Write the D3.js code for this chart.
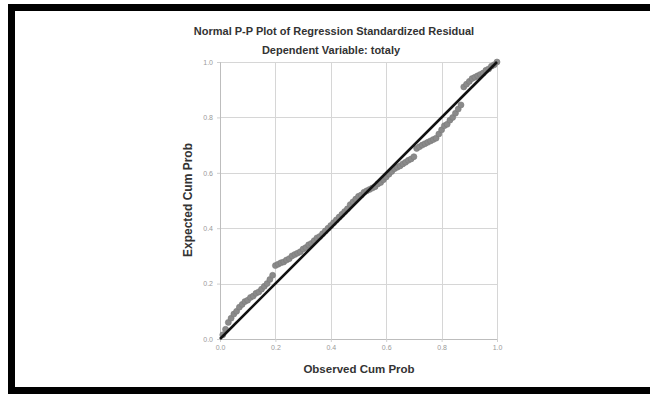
<!DOCTYPE html>
<html>
<head>
<meta charset="utf-8">
<script src="https://cdn.jsdelivr.net/npm/d3@7"></script>
<style>
  body { margin: 0; background: #fff; }
  svg { display: block; font-family: Arial, "Liberation Sans", sans-serif; }
</style>
</head>
<body>
<svg id="chart"></svg>
<script>
const title = 'Normal P-P Plot of Regression Standardized Residual';
const subtitle = 'Dependent Variable: totaly';
const xLabel = 'Observed Cum Prob';
const yLabel = 'Expected Cum Prob';
const ticks = [0, 0.2, 0.4, 0.6, 0.8, 1.0];

// observed vs expected cumulative probability
const observed = [
  0.01, 0.02, 0.03, 0.04, 0.05, 0.06, 0.07, 0.08, 0.09, 0.10,
  0.11, 0.12, 0.13, 0.14, 0.15, 0.16, 0.17, 0.18, 0.19, 0.20,
  0.21, 0.22, 0.23, 0.24, 0.25, 0.26, 0.27, 0.28, 0.29, 0.30,
  0.31, 0.32, 0.33, 0.34, 0.35, 0.36, 0.37, 0.38, 0.39, 0.40,
  0.41, 0.42, 0.43, 0.44, 0.45, 0.46, 0.47, 0.48, 0.49, 0.50,
  0.51, 0.52, 0.53, 0.54, 0.55, 0.56, 0.57, 0.58, 0.59, 0.60,
  0.61, 0.62, 0.63, 0.64, 0.65, 0.66, 0.67, 0.68, 0.69, 0.70,
  0.71, 0.72, 0.73, 0.74, 0.75, 0.76, 0.77, 0.78, 0.79, 0.80,
  0.81, 0.82, 0.83, 0.84, 0.85, 0.86, 0.87, 0.88, 0.89, 0.90,
  0.91, 0.92, 0.93, 0.94, 0.95, 0.96, 0.97, 0.98, 0.99, 1.00
];
const expected = [
  0.015, 0.035, 0.06, 0.075, 0.09, 0.10, 0.115, 0.125, 0.135, 0.14,
  0.15, 0.155, 0.165, 0.17, 0.18, 0.19, 0.20, 0.215, 0.23, 0.265,
  0.27, 0.275, 0.278, 0.285, 0.29, 0.30, 0.305, 0.31, 0.315, 0.325,
  0.33, 0.34, 0.345, 0.355, 0.365, 0.37, 0.38, 0.39, 0.40, 0.41,
  0.42, 0.43, 0.44, 0.45, 0.46, 0.47, 0.485, 0.495, 0.505, 0.515,
  0.52, 0.53, 0.535, 0.54, 0.545, 0.55, 0.56, 0.565, 0.575, 0.585,
  0.595, 0.605, 0.615, 0.62, 0.625, 0.632, 0.638, 0.645, 0.65, 0.658,
  0.688, 0.694, 0.70, 0.705, 0.71, 0.715, 0.72, 0.725, 0.74, 0.755,
  0.77, 0.775, 0.79, 0.80, 0.815, 0.83, 0.845, 0.91, 0.92, 0.93,
  0.94, 0.945, 0.95, 0.955, 0.96, 0.97, 0.975, 0.985, 0.99, 1.00
];

const width = 650;
const height = 394;
const plot = { left: 220, top: 62, size: 277 };

const svg = d3.select('#chart').attr('width', width).attr('height', height);

// black frame round the whole picture
svg.append('rect')
  .attr('x', 11.5).attr('y', 7.5)
  .attr('width', 720).attr('height', 383)
  .attr('fill', '#fff')
  .attr('stroke', '#000')
  .attr('stroke-width', 7);

const scaleX = d3.scaleLinear().domain([0, 1]).range([plot.left, plot.left + plot.size]);
const scaleY = d3.scaleLinear().domain([0, 1]).range([plot.top + plot.size, plot.top]);

// grid
const grid = svg.append('g').attr('stroke', '#d6d6d6').attr('stroke-width', 1);
grid.selectAll('.gx').data(ticks).enter().append('line')
  .attr('x1', d => Math.round(scaleX(d)) + 0.5).attr('x2', d => Math.round(scaleX(d)) + 0.5)
  .attr('y1', scaleY(0)).attr('y2', scaleY(1));
grid.selectAll('.gy').data(ticks).enter().append('line')
  .attr('y1', d => Math.round(scaleY(d)) + 0.5).attr('y2', d => Math.round(scaleY(d)) + 0.5)
  .attr('x1', scaleX(0)).attr('x2', scaleX(1));

const xAxis = d3.axisBottom(scaleX).tickValues(ticks).tickFormat(d3.format('.1f')).tickSize(3).tickPadding(3);
const yAxis = d3.axisLeft(scaleY).tickValues(ticks).tickFormat(d3.format('.1f')).tickSize(3).tickPadding(4);

const xAxisWrapper = svg.append('g')
  .attr('transform', `translate(0, ${scaleY(0)})`)
  .call(xAxis);
const yAxisWrapper = svg.append('g')
  .attr('transform', `translate(${scaleX(0)}, 0)`)
  .call(yAxis);

[xAxisWrapper, yAxisWrapper].forEach(ax => {
  ax.select('.domain').attr('stroke', '#bdbdbd');
  ax.selectAll('.tick line').attr('stroke', '#cfcfcf');
  ax.selectAll('.tick text')
    .attr('fill', '#9a9a9a')
    .style('font-size', '7px')
    .style('font-family', 'Arial, "Liberation Sans", sans-serif');
});

// points
svg.append('g')
  .selectAll('circle')
  .data(observed.map((o, i) => [o, expected[i]]))
  .enter()
  .append('circle')
  .attr('cx', d => scaleX(d[0]))
  .attr('cy', d => scaleY(d[1]))
  .attr('r', 3)
  .attr('fill', '#8a8a8a')
  .attr('stroke', '#7a7a7a')
  .attr('stroke-width', 0.6);

// reference diagonal
svg.append('line')
  .attr('x1', scaleX(0)).attr('y1', scaleY(0))
  .attr('x2', scaleX(1)).attr('y2', scaleY(1))
  .attr('stroke', '#111')
  .attr('stroke-width', 2.6);

// texts
svg.append('text')
  .attr('x', 334).attr('y', 35)
  .attr('text-anchor', 'middle')
  .attr('fill', '#333')
  .style('font-size', '11px').style('font-weight', 'bold')
  .text(title);
svg.append('text')
  .attr('x', 331).attr('y', 54)
  .attr('text-anchor', 'middle')
  .attr('fill', '#333')
  .style('font-size', '11px').style('font-weight', 'bold')
  .text(subtitle);
svg.append('text')
  .attr('x', 359).attr('y', 373)
  .attr('text-anchor', 'middle')
  .attr('fill', '#333')
  .style('font-size', '11.5px').style('font-weight', 'bold')
  .text(xLabel);
svg.append('text')
  .attr('transform', `translate(192, 200) rotate(-90)`)
  .attr('text-anchor', 'middle')
  .attr('fill', '#333')
  .style('font-size', '12px').style('font-weight', 'bold')
  .text(yLabel);
</script>
</body>
</html>
